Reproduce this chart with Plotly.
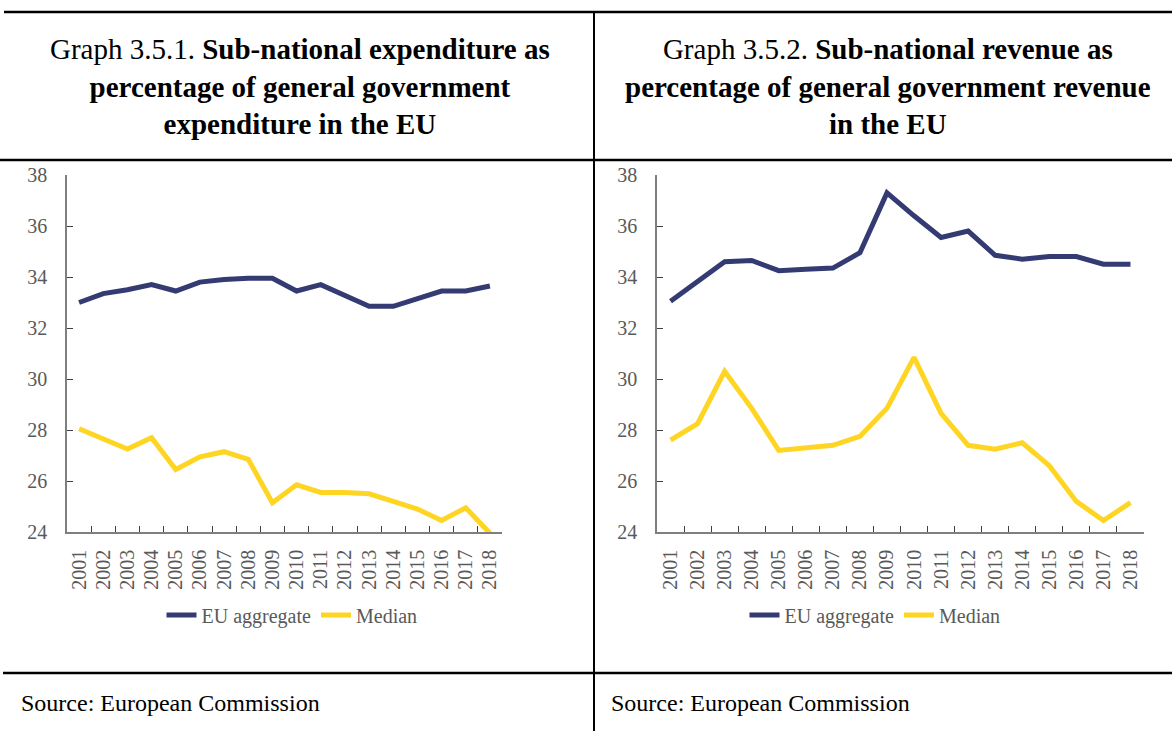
import plotly.graph_objects as go

years = [str(y) for y in range(2001, 2019)]

exp_eu = [33.0, 33.35, 33.5, 33.7, 33.45, 33.8, 33.9, 33.95, 33.95, 33.45,
          33.7, 33.3, 32.85, 32.85, 33.15, 33.45, 33.45, 33.65]
exp_median = [28.05, 27.65, 27.25, 27.7, 26.45, 26.95, 27.15, 26.85, 25.15, 25.85,
              25.55, 25.55, 25.5, 25.2, 24.9, 24.45, 24.95, 23.95]

rev_eu = [33.05, 33.85, 34.6, 34.65, 34.25, 34.3, 34.35, 34.95, 37.3, 36.4,
          35.55, 35.8, 34.85, 34.7, 34.8, 34.8, 34.5, 34.5]
rev_median = [27.6, 28.25, 30.3, 28.85, 27.2, 27.3, 27.4, 27.75, 28.85, 30.85,
              28.65, 27.4, 27.25, 27.5, 26.6, 25.2, 24.45, 25.15]

y_ticks = [24, 26, 28, 30, 32, 34, 36, 38]
series_names = ["EU aggregate", "Median"]

title_left = ("Graph 3.5.1. <b>Sub-national expenditure as</b><br>"
              "<b>percentage of general government</b><br>"
              "<b>expenditure in the EU</b>")
title_right = ("Graph 3.5.2. <b>Sub-national revenue as</b><br>"
               "<b>percentage of general government revenue</b><br>"
               "<b>in the EU</b>")
source_text = "Source: European Commission"

NAVY = "#333b72"
YELLOW = "#ffd524"
FONT = "Liberation Serif"
W, H = 1172, 731

fig = go.Figure()
fig.add_trace(go.Scatter(x=years, y=exp_eu, name=series_names[0], mode="lines",
                         line=dict(color=NAVY, width=5), xaxis="x", yaxis="y",
                         legend="legend"))
fig.add_trace(go.Scatter(x=years, y=exp_median, name=series_names[1], mode="lines",
                         line=dict(color=YELLOW, width=5), xaxis="x", yaxis="y",
                         legend="legend"))
fig.add_trace(go.Scatter(x=years, y=rev_eu, name=series_names[0], mode="lines",
                         line=dict(color=NAVY, width=5), xaxis="x2", yaxis="y2",
                         legend="legend2"))
fig.add_trace(go.Scatter(x=years, y=rev_median, name=series_names[1], mode="lines",
                         line=dict(color=YELLOW, width=5), xaxis="x2", yaxis="y2",
                         legend="legend2"))

def px_x(p):
    return p / W

def px_y(p):
    return 1 - p / H

y_dom = [px_y(532), px_y(175)]

xaxis_common = dict(type="category", range=[-0.5, 17.5], tickson="boundaries",
                    ticks="inside", ticklen=6, tickcolor="#404040", tickwidth=1,
                    showline=True, linecolor="#7f7f7f", linewidth=1.5,
                    showgrid=False, zeroline=False, tickangle=-90,
                    tickfont=dict(family=FONT, size=20, color="#595959"),
                    ticklabelstandoff=8, fixedrange=True, automargin=False)
yaxis_common = dict(range=[24, 38], tickvals=y_ticks, ticks="inside", ticklen=6,
                    tickcolor="#404040", tickwidth=1, showline=True,
                    linecolor="#7f7f7f", linewidth=1.5, showgrid=False,
                    zeroline=False, domain=y_dom,
                    tickfont=dict(family=FONT, size=20, color="#595959"),
                    ticklabelstandoff=14, fixedrange=True, automargin=False)

legend_font = dict(family=FONT, size=20, color="#595959")

fig.update_layout(
    width=W, height=H,
    margin=dict(l=0, r=0, t=0, b=0, pad=0, autoexpand=False),
    paper_bgcolor="white", plot_bgcolor="white",
    showlegend=True,
    xaxis=dict(domain=[px_x(67), px_x(502)], anchor="y", **xaxis_common),
    yaxis=dict(anchor="x", **yaxis_common),
    xaxis2=dict(domain=[px_x(657), px_x(1144)], anchor="y2", **xaxis_common),
    yaxis2=dict(anchor="x2", **yaxis_common),
    legend=dict(orientation="h", x=px_x(292), xanchor="center", y=px_y(615),
                yanchor="middle", font=legend_font,
                bgcolor="rgba(0,0,0,0)", itemwidth=30, tracegroupgap=0),
    legend2=dict(orientation="h", x=px_x(875), xanchor="center", y=px_y(615),
                 yanchor="middle", font=legend_font,
                 bgcolor="rgba(0,0,0,0)", itemwidth=30, tracegroupgap=0),
)

line_style = dict(color="black", width=2.5)
fig.add_shape(type="line", xref="paper", yref="paper", x0=px_x(4), x1=1,
              y0=px_y(12), y1=px_y(12), line=line_style)
fig.add_shape(type="line", xref="paper", yref="paper", x0=0, x1=1,
              y0=px_y(160), y1=px_y(160), line=line_style)
fig.add_shape(type="line", xref="paper", yref="paper", x0=px_x(3), x1=1,
              y0=px_y(673), y1=px_y(673), line=line_style)
fig.add_shape(type="line", xref="paper", yref="paper", x0=px_x(594), x1=px_x(594),
              y0=0, y1=px_y(12), line=dict(color="black", width=2))

title_font = dict(family=FONT, size=29, color="black")
fig.add_annotation(text=title_left, xref="paper", yref="paper", x=px_x(300),
                   y=px_y(87), xanchor="center", yanchor="middle", showarrow=False,
                   align="center", font=title_font)
fig.add_annotation(text=title_right, xref="paper", yref="paper", x=px_x(888),
                   y=px_y(87), xanchor="center", yanchor="middle", showarrow=False,
                   align="center", font=title_font)
source_font = dict(family=FONT, size=24, color="black")
fig.add_annotation(text=source_text, xref="paper", yref="paper", x=px_x(19),
                   y=px_y(703), xanchor="left", yanchor="middle", showarrow=False,
                   font=source_font)
fig.add_annotation(text=source_text, xref="paper", yref="paper", x=px_x(609),
                   y=px_y(703), xanchor="left", yanchor="middle", showarrow=False,
                   font=source_font)

post = (
    "var de=document.documentElement, b=document.body;"
    "de.style.margin='0';de.style.padding='0';de.style.overflow='hidden';"
    "b.style.margin='0';b.style.padding='0';b.style.overflow='hidden';"
    "var gd=document.getElementById('{plot_id}');"
    "gd.style.position='fixed';gd.style.top='0px';gd.style.left='0px';"
)

fig.write_html("out.html", config={"displayModeBar": False}, post_script=post)
